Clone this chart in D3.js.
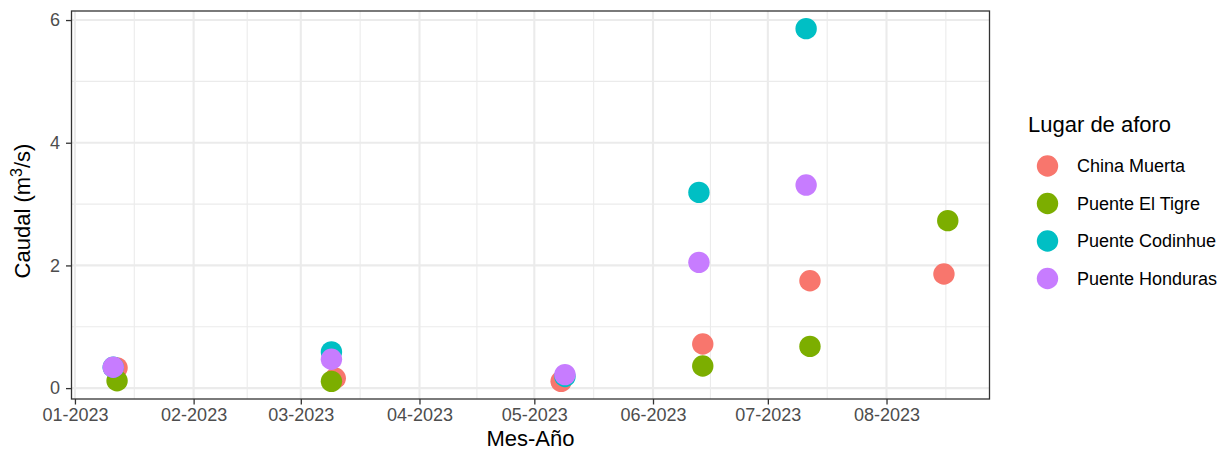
<!DOCTYPE html>
<html><head><meta charset="utf-8">
<script src="https://cdn.jsdelivr.net/npm/d3@7"></script>
<style>body{margin:0;background:#fff;} svg{display:block;font-family:"Liberation Sans",Arial,Helvetica,sans-serif;}</style>
</head><body><svg id="c" width="1229" height="452"></svg>
<script>
const sites = ["China Muerta","Puente El Tigre","Puente Codinhue","Puente Honduras"];
const colors = ["#F8766D","#7CAE00","#00BFC4","#C77CFF"];
const chinaMuertaDates = ["2023-01-12","2023-03-10","2023-05-08","2023-06-14","2023-07-12","2023-08-16"];
const chinaMuertaValues = [0.33,0.16,0.11,0.72,1.75,1.86];
const elTigreDates = ["2023-01-12","2023-03-09","2023-06-14","2023-07-12","2023-08-17"];
const elTigreValues = [0.12,0.11,0.36,0.68,2.73];
const codinhueDates = ["2023-01-11","2023-03-09","2023-05-09","2023-06-13","2023-07-11"];
const codinhueValues = [0.34,0.59,0.19,3.19,5.86];
const hondurasDates = ["2023-01-11","2023-03-09","2023-05-09","2023-06-13","2023-07-11"];
const hondurasValues = [0.34,0.47,0.22,2.05,3.31];
const xTickDates = ["2023-01-01","2023-02-01","2023-03-01","2023-04-01","2023-05-01","2023-06-01","2023-07-01","2023-08-01"];
const yTicks = [0,2,4,6];
const yMinor = [1,3,5];

const parse = d3.utcParse("%Y-%m-%d");
const seriesDates = [chinaMuertaDates, elTigreDates, codinhueDates, hondurasDates];
const seriesValues = [chinaMuertaValues, elTigreValues, codinhueValues, hondurasValues];
const points = [];
sites.forEach((s,i)=>{ seriesDates[i].forEach((d,j)=>points.push({site:s, i, date:parse(d), v:seriesValues[i][j]})); });

const L=71.5, R=989.5, T=11, B=399;
const svg = d3.select("#c");
svg.append("rect").attr("width",1229).attr("height",452).attr("fill","#fff");

const xe = d3.extent(points,d=>+d.date), xr=(xe[1]-xe[0])*0.05;
const x = d3.scaleUtc().domain([new Date(xe[0]-xr), new Date(xe[1]+xr)]).range([L,R]);
const ye = d3.extent(points,d=>d.v), yr=(ye[1]-ye[0])*0.05;
const y = d3.scaleLinear().domain([ye[0]-yr, ye[1]+yr]).range([B,T]);

const xt = xTickDates.map(parse);
const xmin = [];
for(let k=0;k<xt.length;k++){
  const a = +xt[k], b = k<xt.length-1 ? +xt[k+1] : +xt[k] + (+xt[k]-+xt[k-1]);
  const a0 = k>0 ? +xt[k-1] : +xt[0] - (+xt[1]-+xt[0]);
  if(k===0){ const m=(a0+a)/2; if(m>=+x.domain()[0]) xmin.push(m);}
  const m=(a+b)/2; if(m<=+x.domain()[1]) xmin.push(m);
}
const g = svg.append("g");
g.selectAll(".ymin").data(yMinor).join("line").attr("x1",L).attr("x2",R).attr("y1",d=>y(d)).attr("y2",d=>y(d)).attr("stroke","#EBEBEB").attr("stroke-width",1.1);
g.selectAll(".xmin").data(xmin).join("line").attr("y1",T).attr("y2",B).attr("x1",d=>x(new Date(d))).attr("x2",d=>x(new Date(d))).attr("stroke","#EBEBEB").attr("stroke-width",1.1);
g.selectAll(".ymaj").data(yTicks).join("line").attr("x1",L).attr("x2",R).attr("y1",d=>y(d)).attr("y2",d=>y(d)).attr("stroke","#EBEBEB").attr("stroke-width",2.1);
g.selectAll(".xmaj").data(xt).join("line").attr("y1",T).attr("y2",B).attr("x1",d=>x(d)).attr("x2",d=>x(d)).attr("stroke","#EBEBEB").attr("stroke-width",2.1);

svg.append("g").selectAll("circle").data(points.slice().sort((a,b)=>a.i-b.i)).join("circle")
  .attr("cx",d=>x(d.date)).attr("cy",d=>y(d.v)).attr("r",10.7).attr("fill",d=>colors[d.i]);

svg.append("rect").attr("x",L).attr("y",T).attr("width",R-L).attr("height",B-T).attr("fill","none").attr("stroke","#333333").attr("stroke-width",1.3);

const xAxis = d3.axisBottom(x).tickValues(xt).tickFormat(d3.utcFormat("%m-%Y")).tickSize(5.5).tickPadding(4);
const ax = svg.append("g").attr("transform",`translate(0,${B})`).call(xAxis);
ax.select(".domain").remove();
ax.selectAll(".tick line").attr("stroke","#333333").attr("stroke-width",1.3);
ax.selectAll(".tick text").attr("fill","#4D4D4D").attr("font-size",18).attr("font-family","Liberation Sans, Arial, sans-serif");
const yAxis = d3.axisLeft(y).tickValues(yTicks).tickFormat(d3.format("d")).tickSize(5.5).tickPadding(6);
const ay = svg.append("g").attr("transform",`translate(${L},0)`).call(yAxis);
ay.select(".domain").remove();
ay.selectAll(".tick line").attr("stroke","#333333").attr("stroke-width",1.3);
ay.selectAll(".tick text").attr("fill","#4D4D4D").attr("font-size",18).attr("font-family","Liberation Sans, Arial, sans-serif");

svg.append("text").attr("x",(L+R)/2).attr("y",446).attr("text-anchor","middle").attr("font-size",22).attr("fill","#000").text("Mes-Año");
const yt = svg.append("text").attr("transform","translate(30,211) rotate(-90)").attr("text-anchor","middle").attr("font-size",22).attr("fill","#000");
yt.append("tspan").text("Caudal (m");
yt.append("tspan").attr("font-size",16).attr("dy",-8).text("3");
yt.append("tspan").attr("dy",8).text("/s)");

const lg = svg.append("g");
lg.append("text").attr("x",1028).attr("y",132).attr("font-size",22).attr("fill","#000").text("Lugar de aforo");
const ly = d3.scalePoint().domain(sites).range([166,278.5]);
lg.selectAll("circle").data(sites).join("circle").attr("cx",1047.5).attr("cy",d=>ly(d)).attr("r",10.7).attr("fill",(d,i)=>colors[i]);
lg.selectAll(".lt").data(sites).join("text").attr("x",1077).attr("y",d=>ly(d)).attr("dy","0.35em").attr("font-size",18).attr("fill","#000").text(d=>d);
</script></body></html>
